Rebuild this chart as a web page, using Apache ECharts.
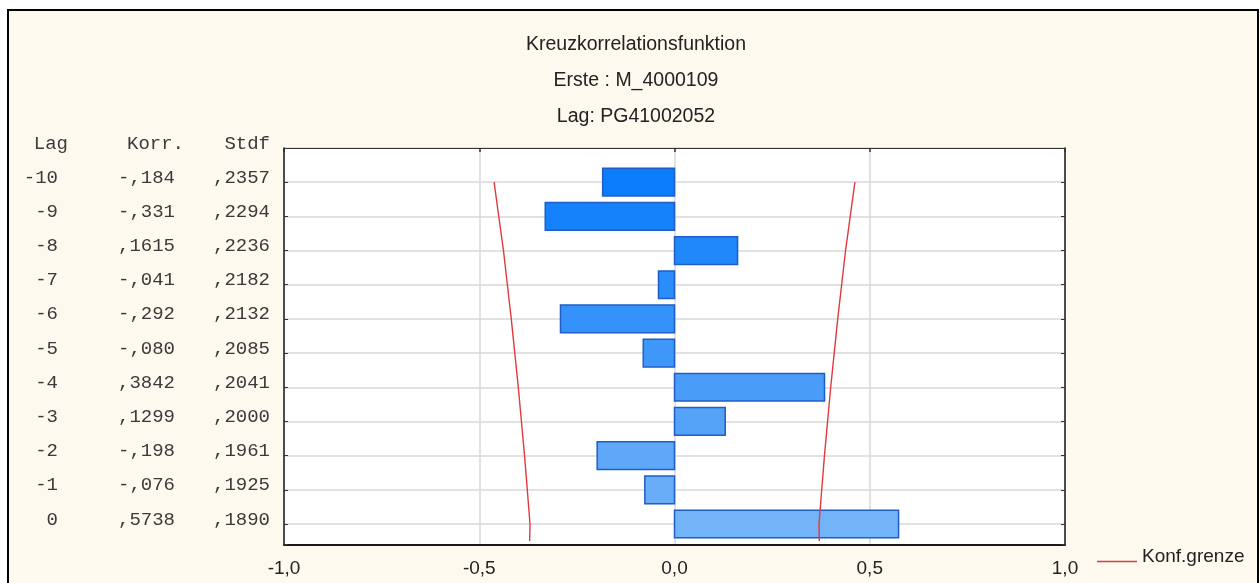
<!DOCTYPE html>
<html>
<head>
<meta charset="utf-8">
<script src="https://cdn.jsdelivr.net/npm/echarts@6/dist/echarts.min.js"></script>
<style>
  html, body { margin: 0; padding: 0; background: #ffffff; width: 1260px; height: 583px; overflow: hidden; }
  #frame { position: absolute; left: 7px; top: 9px; width: 1252px; height: 620px; box-sizing: border-box;
           border: 2.5px solid #000; background: #fdf9ee; }
  #chart { position: absolute; left: 0; top: 0; width: 1260px; height: 583px; }
</style>
</head>
<body>
<div id="frame"></div>
<div id="chart"></div>
<script>
// ---- data ----
const lags = [-10, -9, -8, -7, -6, -5, -4, -3, -2, -1, 0];
const korr = [-0.184, -0.331, 0.1615, -0.041, -0.292, -0.080, 0.3842, 0.1299, -0.198, -0.076, 0.5738];
const korrText = ['-,184', '-,331', ',1615', '-,041', '-,292', '-,080', ',3842', ',1299', '-,198', '-,076', ',5738'];
const stdfText = [',2357', ',2294', ',2236', ',2182', ',2132', ',2085', ',2041', ',2000', ',1961', ',1925', ',1890'];
const confLags = [-10, -9, -8, -7, -6, -5, -4, -3, -2, -1, 0, 0.5];
const confUpper = [0.462, 0.450, 0.438, 0.428, 0.418, 0.409, 0.400, 0.392, 0.384, 0.377, 0.370, 0.371];
const confLower = [-0.462, -0.450, -0.438, -0.428, -0.418, -0.409, -0.400, -0.392, -0.384, -0.377, -0.370, -0.371];
const header = ['Lag', 'Korr.', 'Stdf'];
const titleLines = ['Kreuzkorrelationsfunktion', 'Erste : M_4000109', 'Lag: PG41002052'];
const legendName = 'Konf.grenze';

// ---- styles ----
const barColors = ['#0b7dfb', '#1582fb', '#2088fb', '#2a8dfb', '#3592fb', '#3f97fa',
                   '#4a9cf9', '#55a2f9', '#5fa7f9', '#69adf8', '#73b3f8'];
const mono = "'Liberation Mono', 'DejaVu Sans Mono', monospace";
const sans = "'Liberation Sans', Arial, sans-serif";
const redLine = '#e0393e';

const chart = echarts.init(document.getElementById('chart'), null, { renderer: 'canvas' });

const barData = korr.map((v, i) => [v, lags[i]]);
const upperData = confLags.map((l, i) => [confUpper[i], l]);
const lowerData = confLags.map((l, i) => [confLower[i], l]);

function tableLabel(value) {
  if (Math.abs(value - (-11)) < 1e-9) {
    return '{ha|' + header[0] + '}{hb|' + header[1] + '}{hc|' + header[2] + '}';
  }
  const idx = lags.indexOf(Math.round(value));
  if (idx < 0 || Math.abs(value - Math.round(value)) > 1e-9) return '';
  return '{a|' + lags[idx] + '}{b|' + korrText[idx] + '}{c|' + stdfText[idx] + '}';
}

const tokenBase = { fontFamily: mono, fontSize: 19, color: '#3a3a3a', align: 'right' };

const option = {
  animation: false,
  backgroundColor: 'transparent',
  title: {
    text: titleLines.join('\n'),
    left: 631,
    textAlign: 'center',
    top: 22,
    textStyle: { fontFamily: sans, fontSize: 19.5, fontWeight: 'normal', color: '#222', lineHeight: 36 }
  },
  legend: {
    data: [{ name: legendName, icon: 'path://M0,0H40V1.6H0Z' }],
    left: 1092,
    top: 542,
    itemWidth: 40,
    itemHeight: 2,
    formatter: '{t|{name}}',
    textStyle: {
      fontFamily: sans, fontSize: 19, color: '#222',
      rich: { t: { fontFamily: sans, fontSize: 19, color: '#222', padding: [0, 0, 10, 0] } }
    }
  },
  grid: {
    left: 284, right: 195, top: 148, height: 396.5,
    show: true, backgroundColor: '#ffffff', borderWidth: 0
  },
  xAxis: [
    {
      type: 'value', position: 'bottom', min: -1, max: 1, interval: 0.5,
      axisLine: { show: true, onZero: false, lineStyle: { color: '#1a1a1a', width: 2 } },
      axisTick: { show: false },
      axisLabel: {
        margin: 15, fontFamily: sans, fontSize: 19, color: '#222',
        formatter: v => v.toFixed(1).replace('.', ',')
      },
      splitLine: { show: true, lineStyle: { color: '#d9d9d9', width: 1.5 } }
    },
    {
      type: 'value', position: 'top', min: -1, max: 1, interval: 0.5,
      axisLine: { show: true, onZero: false, lineStyle: { color: '#333', width: 1.2 } },
      axisTick: { show: true, inside: true, length: 4, lineStyle: { color: '#333', width: 1.5 } },
      axisLabel: { show: false },
      splitLine: { show: false }
    }
  ],
  yAxis: [
    {
      type: 'value', position: 'left', inverse: true, min: -11, max: 0.6, interval: 1,
      axisLine: { show: true, onZero: false, lineStyle: { color: '#1a1a1a', width: 1.5 } },
      axisTick: { show: true, inside: true, length: 4, lineStyle: { color: '#333' } },
      splitLine: { show: true, lineStyle: { color: '#d9d9d9', width: 1.5 } },
      axisLabel: {
        margin: 14,
        padding: [0, 0, 9, 0],
        formatter: tableLabel,
        showMinLabel: true, showMaxLabel: true,
        rich: {
          a: Object.assign({}, tokenBase, { width: 40 }),
          b: Object.assign({}, tokenBase, { width: 117 }),
          c: Object.assign({}, tokenBase, { width: 95 }),
          ha: Object.assign({}, tokenBase, { width: 50 }),
          hb: Object.assign({}, tokenBase, { width: 116 }),
          hc: Object.assign({}, tokenBase, { width: 86 })
        }
      }
    },
    {
      type: 'value', position: 'right', inverse: true, min: -11, max: 0.6, interval: 1,
      axisLine: { show: true, onZero: false, lineStyle: { color: '#1a1a1a', width: 1.5 } },
      axisTick: { show: true, inside: true, length: 4, lineStyle: { color: '#333' } },
      axisLabel: { show: false },
      splitLine: { show: false }
    }
  ],
  series: [
    {
      type: 'custom',
      name: 'Korr.',
      xAxisIndex: 0, yAxisIndex: 0,
      data: barData,
      encode: { x: 0, y: 1 },
      renderItem: function (params, api) {
        const x = api.value(0), y = api.value(1);
        const p0 = api.coord([0, y]);
        const p1 = api.coord([x, y]);
        const h = api.size([0, 1])[1] * 0.81;
        return {
          type: 'rect',
          shape: { x: Math.min(p0[0], p1[0]), y: p0[1] - h / 2, width: Math.abs(p1[0] - p0[0]), height: h },
          style: { fill: barColors[params.dataIndex], stroke: '#1f5ec6', lineWidth: 1.5 }
        };
      },
      z: 3
    },
    {
      type: 'line', name: legendName, xAxisIndex: 0, yAxisIndex: 0,
      data: upperData, symbol: 'none', smooth: false,
      lineStyle: { color: redLine, width: 1.4 }, itemStyle: { color: redLine }, z: 4
    },
    {
      type: 'line', name: legendName, xAxisIndex: 0, yAxisIndex: 0,
      data: lowerData, symbol: 'none', smooth: false,
      lineStyle: { color: redLine, width: 1.4 }, itemStyle: { color: redLine }, z: 4
    }
  ]
};

chart.setOption(option);
</script>
</body>
</html>
